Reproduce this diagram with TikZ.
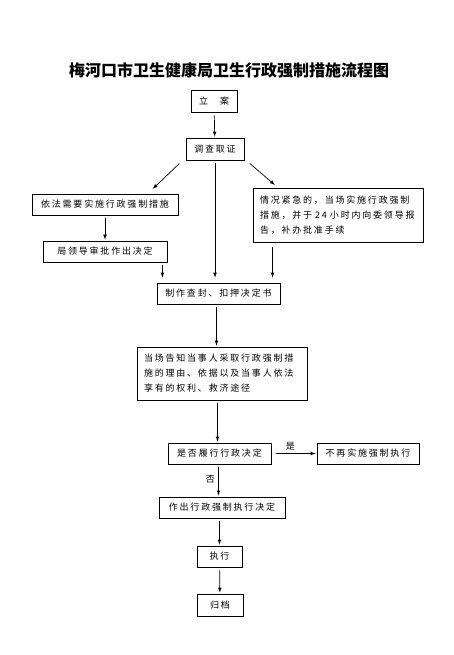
\documentclass[tikz,border=0pt]{standalone}
\usepackage{fontspec}
\newfontfamily\cjk[LetterSpace=20]{Noto Sans CJK SC}
\newfontfamily\cjktitle{Noto Sans CJK SC}
\tikzset{>=latex}
\usetikzlibrary{calc}

\begin{document}
\begin{tikzpicture}[x=1pt,y=-1pt,
  box/.style={draw,line width=0.9pt,inner sep=0pt,minimum height=21pt,font={\cjk\fontsize{9}{15}\selectfont}},
  tbox/.style={box,align=left,inner xsep=7pt,text width=#1},
  conn/.style={->,line width=0.7pt,shorten <=3pt,shorten >=1pt}]
  \useasboundingbox (0,0) rectangle (454,655);
  \node (title) at (229,70) {\cjktitle\bfseries\fontsize{16}{20}\selectfont 梅河口市卫生健康局卫生行政强制措施流程图};
  % boxes
  \node[box,minimum width=46pt,minimum height=22pt] (la) at (214,101) {立\hspace{12pt}案};
  \node[box,minimum width=58pt,minimum height=22pt] (dc) at (215,149) {调查取证};
  \node[box,minimum width=146pt] (yf) at (105,204.5) {依法需要实施行政强制措施};
  \node[box,minimum width=124pt] (jl) at (105,251.5) {局领导审批作出决定};
  \node[tbox=156pt,minimum height=54pt] (qk) at (338,215)
    {情况紧急的，当场实施行政强制\\措施，并于 24 小时内向委领导报\\告，补办批准手续};
  \node[box,minimum width=123pt] (zz) at (218.5,293.5) {制作查封、扣押决定书};
  \node[tbox=156pt,minimum height=53pt] (gz) at (222,373.5)
    {当场告知当事人采取行政强制措\\施的理由、依据以及当事人依法\\享有的权利、救济途径};
  \node[box,minimum width=103pt] (sf) at (219.5,453.5) {是否履行行政决定};
  \node[box,minimum width=102pt] (bz) at (368,453.5) {不再实施强制执行};
  \node[box,minimum width=126pt] (zc) at (222,507.5) {作出行政强制执行决定};
  \node[box,minimum width=45pt] (zx) at (219.5,556.5) {执行};
  \node[box,minimum width=46pt,minimum height=22pt] (gd) at (220,605) {归档};
  % connectors
  \draw[conn] (la) -- (dc);
  \draw[conn] ($(dc.south west)+(-4,1)$) -- ($(yf.north)+(47,-4)$);
  \draw[conn] (dc.south) -- ($(dc.south |- zz.north)+(0,-4)$);
  \draw[conn] ($(dc.south east)+(3,1)$) -- ($(qk.north west)+(23,-2)$);
  \draw[conn] (yf) -- (jl);
  \draw[conn] ($(jl.south east)+(-5,0)$) -- ($(jl.south east |- zz.north)+(-5,-4)$);
  \draw[conn] ($(qk.south west)+(20,2)$) -- ($(qk.south west |- zz.north)+(20,-4)$);
  \draw[conn] ($(zz.south)+(-2,0)$) -- ($(zz.south |- gz.north)+(-2,0)$);
  \draw[conn] ($(sf.north |- gz.south)+(-2,0)$) -- ($(sf.north)+(-2,0)$);
  \draw[conn,shorten <=5pt] (sf) -- node[pos=.42,above,font={\cjk\fontsize{9}{11}\selectfont}] {是} (bz);
  \draw[conn] ($(sf.south)+(-1,0)$) -- node[pos=.45,left,font={\cjk\fontsize{9}{11}\selectfont}] {否} ($(sf.south |- zc.north)+(-1,0)$);
  \draw[conn] (zc.south -| zx.north) -- (zx.north);
  \draw[conn] (zx) -- (gd);
\end{tikzpicture}
\end{document}
